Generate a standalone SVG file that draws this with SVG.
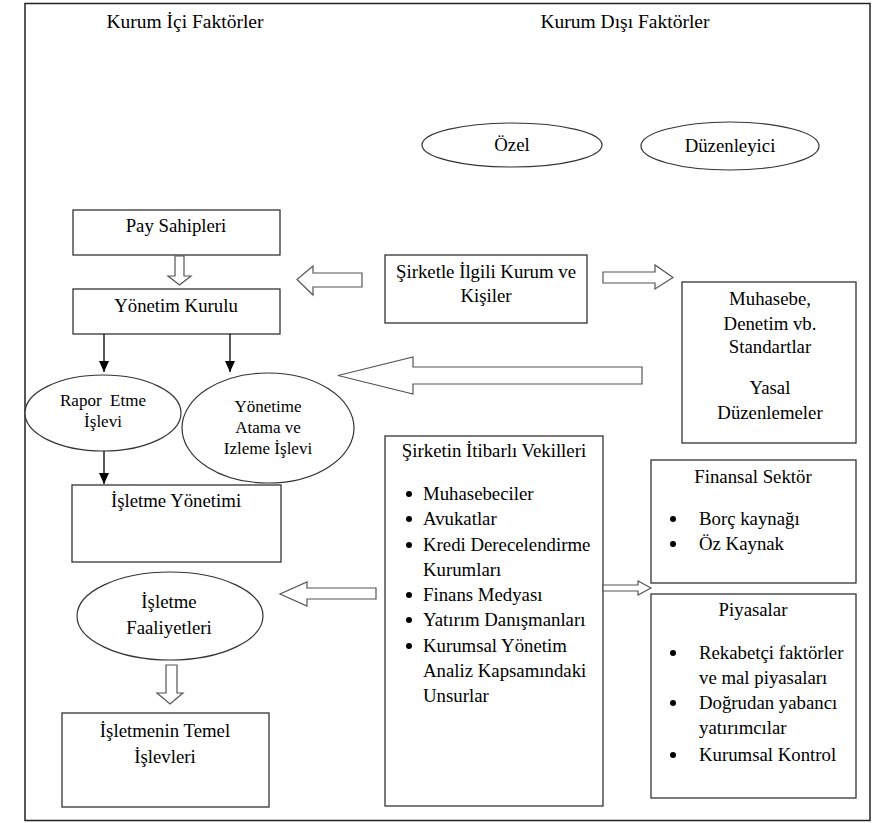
<svg xmlns="http://www.w3.org/2000/svg" width="877" height="823" viewBox="0 0 877 823" font-family="'Liberation Serif', 'Times New Roman', serif">
  <style>
    text { font-family: "Liberation Serif", "Times New Roman", serif; font-size: 18.8px; fill: #000; }
    .mid { text-anchor: middle; }
    .head { font-size: 19.5px; }
    .small { font-size: 17px; }
    .box { fill: #fff; stroke: #333; stroke-width: 1.3; }
    .oval { fill: #fff; stroke: #333; stroke-width: 1.2; }
    .hollow { fill: #fff; stroke: #555; stroke-width: 1.2; stroke-linejoin: miter; }
    .line { stroke: #000; stroke-width: 1.3; fill: none; }
    .bullet { fill: #000; }
  </style>
  <defs>
    <marker id="head" markerUnits="userSpaceOnUse" markerWidth="12" markerHeight="14" refX="11" refY="5" orient="auto">
      <path d="M0,0 L11,5 L0,10 Z" fill="#000"/>
    </marker>
  </defs>

  <rect width="877" height="823" fill="#fff"/>
  <!-- outer frame -->
  <rect x="25" y="3.5" width="845" height="817" fill="none" stroke="#222" stroke-width="1.5"/>

  <!-- column headings -->
  <text class="mid head" x="185" y="28">Kurum İçi Faktörler</text>
  <text class="mid head" x="625" y="28">Kurum Dışı Faktörler</text>

  <g id="ozel">
    <ellipse class="oval" cx="512" cy="145" rx="90" ry="22"/>
    <text class="mid" x="512" y="151">Özel</text>
  </g>
  <g id="duzenleyici">
    <ellipse class="oval" cx="730" cy="146" rx="89" ry="24"/>
    <text class="mid" x="730" y="152">Düzenleyici</text>
  </g>

  <g id="pay-sahipleri">
    <rect class="box" x="73" y="210" width="207" height="45"/>
    <text class="mid" x="176" y="232">Pay Sahipleri</text>
  </g>
  <g id="yonetim-kurulu">
    <rect class="box" x="73" y="289" width="207" height="45"/>
    <text class="mid" x="176" y="312">Yönetim Kurulu</text>
  </g>

  <g id="sirketle-ilgili">
    <rect class="box" x="385" y="255" width="202" height="68"/>
    <text class="mid" x="486" y="278">Şirketle İlgili Kurum ve</text>
    <text class="mid" x="486" y="302">Kişiler</text>
  </g>

  <g id="standartlar">
    <rect class="box" x="682" y="282" width="174" height="161"/>
    <text class="mid" x="770" y="305">Muhasebe,</text>
    <text class="mid" x="770" y="330">Denetim vb.</text>
    <text class="mid" x="770" y="353">Standartlar</text>
    <text class="mid" x="770" y="394">Yasal</text>
    <text class="mid" x="770" y="419">Düzenlemeler</text>
  </g>

  <g id="rapor-etme">
    <ellipse class="oval" cx="103" cy="413" rx="78" ry="38"/>
    <text class="mid small" x="103" y="406" xml:space="preserve">Rapor  Etme</text>
    <text class="mid small" x="103" y="427">İşlevi</text>
  </g>
  <g id="atama-izleme">
    <ellipse class="oval" cx="268" cy="428" rx="86" ry="55"/>
    <text class="mid small" x="268" y="412">Yönetime</text>
    <text class="mid small" x="268" y="433">Atama ve</text>
    <text class="mid small" x="268" y="454">Izleme İşlevi</text>
  </g>

  <g id="isletme-yonetimi">
    <rect class="box" x="72" y="485" width="209" height="77"/>
    <text class="mid" x="176" y="507">İşletme Yönetimi</text>
  </g>

  <g id="isletme-faaliyetleri">
    <ellipse class="oval" cx="170" cy="616" rx="93" ry="44"/>
    <text class="mid" x="169" y="608">İşletme</text>
    <text class="mid" x="169" y="634">Faaliyetleri</text>
  </g>

  <g id="temel-islevler">
    <rect class="box" x="62" y="713" width="207" height="94"/>
    <text class="mid" x="165" y="737">İşletmenin Temel</text>
    <text class="mid" x="165" y="763">İşlevleri</text>
  </g>

  <g id="itibarli-vekiller">
    <rect class="box" x="385" y="436" width="218" height="370"/>
    <text class="mid" x="494" y="457">Şirketin İtibarlı Vekilleri</text>
    <circle class="bullet" cx="409" cy="494" r="3"/>
    <text x="423" y="500">Muhasebeciler</text>
    <circle class="bullet" cx="409" cy="519" r="3"/>
    <text x="423" y="525">Avukatlar</text>
    <circle class="bullet" cx="409" cy="545" r="3"/>
    <text x="423" y="551">Kredi Derecelendirme</text>
    <text x="423" y="576">Kurumları</text>
    <circle class="bullet" cx="409" cy="595" r="3"/>
    <text x="423" y="601">Finans Medyası</text>
    <circle class="bullet" cx="409" cy="620" r="3"/>
    <text x="423" y="626">Yatırım Danışmanları</text>
    <circle class="bullet" cx="409" cy="646" r="3"/>
    <text x="423" y="652">Kurumsal Yönetim</text>
    <text x="423" y="677">Analiz Kapsamındaki</text>
    <text x="423" y="702">Unsurlar</text>
  </g>

  <g id="finansal-sektor">
    <rect class="box" x="651" y="460" width="205" height="123"/>
    <text class="mid" x="753" y="483">Finansal Sektör</text>
    <circle class="bullet" cx="673" cy="519" r="3"/>
    <text x="699" y="525">Borç kaynağı</text>
    <circle class="bullet" cx="673" cy="544" r="3"/>
    <text x="699" y="550">Öz Kaynak</text>
  </g>

  <g id="piyasalar">
    <rect class="box" x="651" y="594" width="205" height="204"/>
    <text class="mid" x="753" y="616">Piyasalar</text>
    <circle class="bullet" cx="673" cy="653" r="3"/>
    <text x="699" y="659">Rekabetçi faktörler</text>
    <text x="699" y="684">ve mal piyasaları</text>
    <circle class="bullet" cx="673" cy="703" r="3"/>
    <text x="699" y="709">Doğrudan yabancı</text>
    <text x="699" y="734">yatırımcılar</text>
    <circle class="bullet" cx="673" cy="755" r="3"/>
    <text x="699" y="761">Kurumsal Kontrol</text>
  </g>

  <g id="connectors">
    <!-- thin arrows from the board -->
    <line class="line" x1="104" y1="334" x2="104" y2="372" marker-end="url(#head)"/>
    <line class="line" x1="230" y1="334" x2="230" y2="372" marker-end="url(#head)"/>
    <line class="line" x1="104" y1="451" x2="104" y2="484" marker-end="url(#head)"/>

    <!-- block arrows -->
    <path class="hollow" d="M175,256 H184 V276 H191 L179.5,285 L168,276 H175 Z"/>
    <path class="hollow" d="M362,273 H313 V266 L297,279.5 L313,295 V287 H362 Z"/>
    <path class="hollow" d="M603,272 H655 V265 L673,277.5 L655,289 V283 H603 Z"/>
    <path class="hollow" d="M642,367 H413 V357 L338,375.5 L413,394 V384 H642 Z"/>
    <path class="hollow" d="M376,588 H307 V582 L280,594 L307,606 V599 H376 Z"/>
    <path class="hollow" d="M166,665 H177 V693 H183 L170,704 L157,693 H166 Z"/>
    <path class="hollow" d="M603,585 H638 V581 L651,588 L638,595 V591 H603 Z"/>
  </g>
</svg>
